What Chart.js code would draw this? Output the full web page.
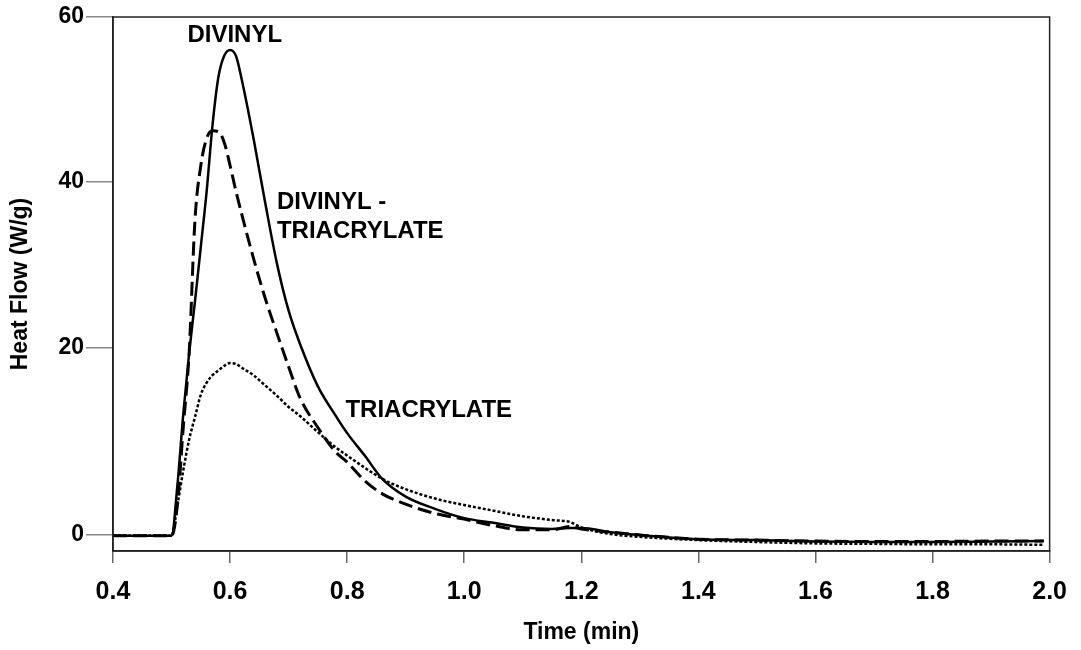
<!DOCTYPE html>
<html>
<head>
<meta charset="utf-8">
<script src="https://cdn.jsdelivr.net/npm/chart.js@4.4.1/dist/chart.umd.min.js"></script>
<style>
  html, body { margin: 0; padding: 0; background: #ffffff; }
  #wrap { width: 1081px; height: 650px; position: relative; }
</style>
</head>
<body>
<div id="wrap"><canvas id="heatChart"></canvas></div>
<script>
// Tiempo (min) común a las tres curvas
const times = [0.40, 0.45, 0.50, 0.51, 0.52, 0.53, 0.54, 0.55, 0.56, 0.57, 0.58, 0.59,
    0.60, 0.61, 0.62, 0.64, 0.66, 0.68, 0.70, 0.72, 0.75, 0.78, 0.80, 0.83, 0.86,
    0.90, 0.95, 1.00, 1.05, 1.10, 1.15, 1.18, 1.20, 1.25, 1.30, 1.40, 1.50, 1.60,
    1.70, 1.80, 1.90, 1.99];

// Heat flow (W/g)
const divinyl = [-0.09, -0.09, -0.09, 5.3, 12.9, 19.4, 25.6, 32.2, 38.9, 46.9, 52.7, 55.3,
    56.0, 55.3, 52.4, 45.3, 37.5, 30.2, 24.5, 20.4, 15.9, 12.8, 10.9, 8.5, 6.0,
    4.1, 2.8, 1.8, 1.3, 0.8, 0.65, 0.75, 0.75, 0.3, 0, -0.45, -0.55, -0.7,
    -0.75, -0.75, -0.7, -0.65];

const divinylTriacrylate = [-0.09, -0.09, -0.09, 3.2, 11.5, 19.4, 35.4, 42.0, 45.3, 46.2, 46.1, 44.8,
    42.0, 38.9, 36.1, 30.8, 26.0, 21.8, 18.0, 14.6, 11.5, 8.9, 7.8, 5.8, 4.4,
    3.3, 2.3, 1.7, 1.0, 0.55, 0.55, 0.9, 0.65, 0.3, 0, -0.45, -0.55, -0.65,
    -0.7, -0.7, -0.65, -0.65];

const triacrylate = [-0.09, -0.09, -0.09, 3.2, 6.9, 10.2, 12.6, 15.0, 16.3, 17.1, 17.6, 18.1,
    18.4, 18.3, 17.9, 17.1, 16.0, 14.9, 13.7, 12.7, 11.0, 9.4, 8.5, 7.2, 6.0,
    4.9, 3.9, 3.2, 2.6, 2.0, 1.6, 1.4, 0.8, 0.1, -0.2, -0.55, -0.75, -0.9,
    -0.95, -1.0, -1.0, -1.05];

const xTicks = [0.4, 0.6, 0.8, 1.0, 1.2, 1.4, 1.6, 1.8, 2.0];
const yTicks = [0, 20, 40, 60];
// El eje Y original no es uniforme: altura relativa de cada marca dentro del área
const yTickFractions = [0.030, 0.380, 0.691, 1.0];

// Rótulos de las curvas (coordenadas en unidades de datos)
const curveLabels = [
    { lines: ['DIVINYL'], x: 0.608, y: 57.8, align: 'center' },
    { lines: ['DIVINYL -', 'TRIACRYLATE'], x: 0.680, y: 37.6, align: 'left' },
    { lines: ['TRIACRYLATE'], x: 0.797, y: 13.3, align: 'left' }
];

const FONT = "'Liberation Sans', Arial, sans-serif";

const toPoints = (values) => values.map((v, i) => ({ x: times[i], y: v }));

// Interpolación lineal por tramos entre las marcas del eje Y
const valueToFraction = (v) => {
    let i = 0;
    while (i < yTicks.length - 2 && v > yTicks[i + 1]) i++;
    const t = (v - yTicks[i]) / (yTicks[i + 1] - yTicks[i]);
    return yTickFractions[i] + t * (yTickFractions[i + 1] - yTickFractions[i]);
};
const fractionToValue = (f) => {
    let i = 0;
    while (i < yTickFractions.length - 2 && f > yTickFractions[i + 1]) i++;
    const t = (f - yTickFractions[i]) / (yTickFractions[i + 1] - yTickFractions[i]);
    return yTicks[i] + t * (yTicks[i + 1] - yTicks[i]);
};

class SegmentedScale extends Chart.LinearScale {
    getPixelForValue(value) {
        return this.bottom - valueToFraction(value) * (this.bottom - this.top);
    }
    getValueForPixel(pixel) {
        return fractionToValue((this.bottom - pixel) / (this.bottom - this.top));
    }
}
SegmentedScale.id = 'segmented';
Chart.register(SegmentedScale);

// Marco completo y rótulos de texto
const framePlugin = {
    id: 'frameAndLabels',
    afterDatasetsDraw(chart) {
        const { ctx, chartArea, scales } = chart;
        ctx.save();
        ctx.strokeStyle = '#222';
        ctx.lineWidth = 1.5;
        ctx.strokeRect(chartArea.left, chartArea.top, chartArea.right - chartArea.left, chartArea.bottom - chartArea.top);

        ctx.fillStyle = '#000';
        ctx.font = 'bold 24px ' + FONT;
        ctx.textBaseline = 'middle';
        curveLabels.forEach(lab => {
            ctx.textAlign = lab.align;
            const px = scales.x.getPixelForValue(lab.x);
            const py = scales.y.getPixelForValue(lab.y);
            lab.lines.forEach((t, i) => ctx.fillText(t, px, py + i * 29));
        });
        ctx.restore();
    }
};

const ctx = document.getElementById('heatChart').getContext('2d');

new Chart(ctx, {
    type: 'line',
    data: {
        datasets: [
            {
                label: 'DIVINYL',
                data: toPoints(divinyl),
                borderColor: '#000',
                borderWidth: 2.5,
                pointRadius: 0,
                fill: false,
                cubicInterpolationMode: 'monotone'
            },
            {
                label: 'DIVINYL - TRIACRYLATE',
                data: toPoints(divinylTriacrylate),
                borderColor: '#000',
                borderWidth: 3,
                borderDash: [14, 6],
                pointRadius: 0,
                fill: false,
                cubicInterpolationMode: 'monotone'
            },
            {
                label: 'TRIACRYLATE',
                data: toPoints(triacrylate),
                borderColor: '#000',
                borderWidth: 2.5,
                borderDash: [3, 2],
                pointRadius: 0,
                fill: false,
                cubicInterpolationMode: 'monotone'
            }
        ]
    },
    options: {
        responsive: true,
        maintainAspectRatio: false,
        animation: false,
        layout: { padding: { top: 17, right: 24, left: 0, bottom: 0 } },
        plugins: {
            legend: { display: false },
            tooltip: { enabled: false }
        },
        scales: {
            x: {
                type: 'linear',
                min: 0.4,
                max: 2.0,
                afterFit: (scale) => { scale.height = 99; },
                afterBuildTicks: (scale) => { scale.ticks = xTicks.map(v => ({ value: v })); },
                border: { display: true, color: '#222', width: 1.5 },
                grid: { drawOnChartArea: false, drawTicks: true, tickLength: 12, color: '#666', lineWidth: 1.5 },
                ticks: {
                    color: '#000',
                    font: { family: FONT, size: 25, weight: 'bold' },
                    padding: 14,
                    maxRotation: 0,
                    callback: (v) => Number(v).toFixed(1)
                },
                title: {
                    display: true,
                    text: 'Time (min)',
                    color: '#000',
                    font: { family: FONT, size: 23, weight: 'bold' },
                    padding: { top: 0, bottom: 4 }
                }
            },
            y: {
                type: 'segmented',
                min: -1.71,
                max: 60,
                afterFit: (scale) => { scale.width = 113; },
                afterBuildTicks: (scale) => { scale.ticks = yTicks.map(v => ({ value: v })); },
                border: { display: true, color: '#222', width: 1.5 },
                grid: { drawOnChartArea: false, drawTicks: true, tickLength: 27, color: '#888', lineWidth: 1.5 },
                ticks: {
                    color: '#000',
                    font: { family: FONT, size: 23, weight: 'bold' },
                    padding: 2,
                    callback: (v) => String(v)
                },
                title: {
                    display: true,
                    text: 'Heat Flow (W/g)',
                    color: '#000',
                    font: { family: FONT, size: 23, weight: 'bold' },
                    padding: { top: 7, bottom: 0 }
                }
            }
        }
    },
    plugins: [framePlugin]
});
</script>
</body>
</html>
